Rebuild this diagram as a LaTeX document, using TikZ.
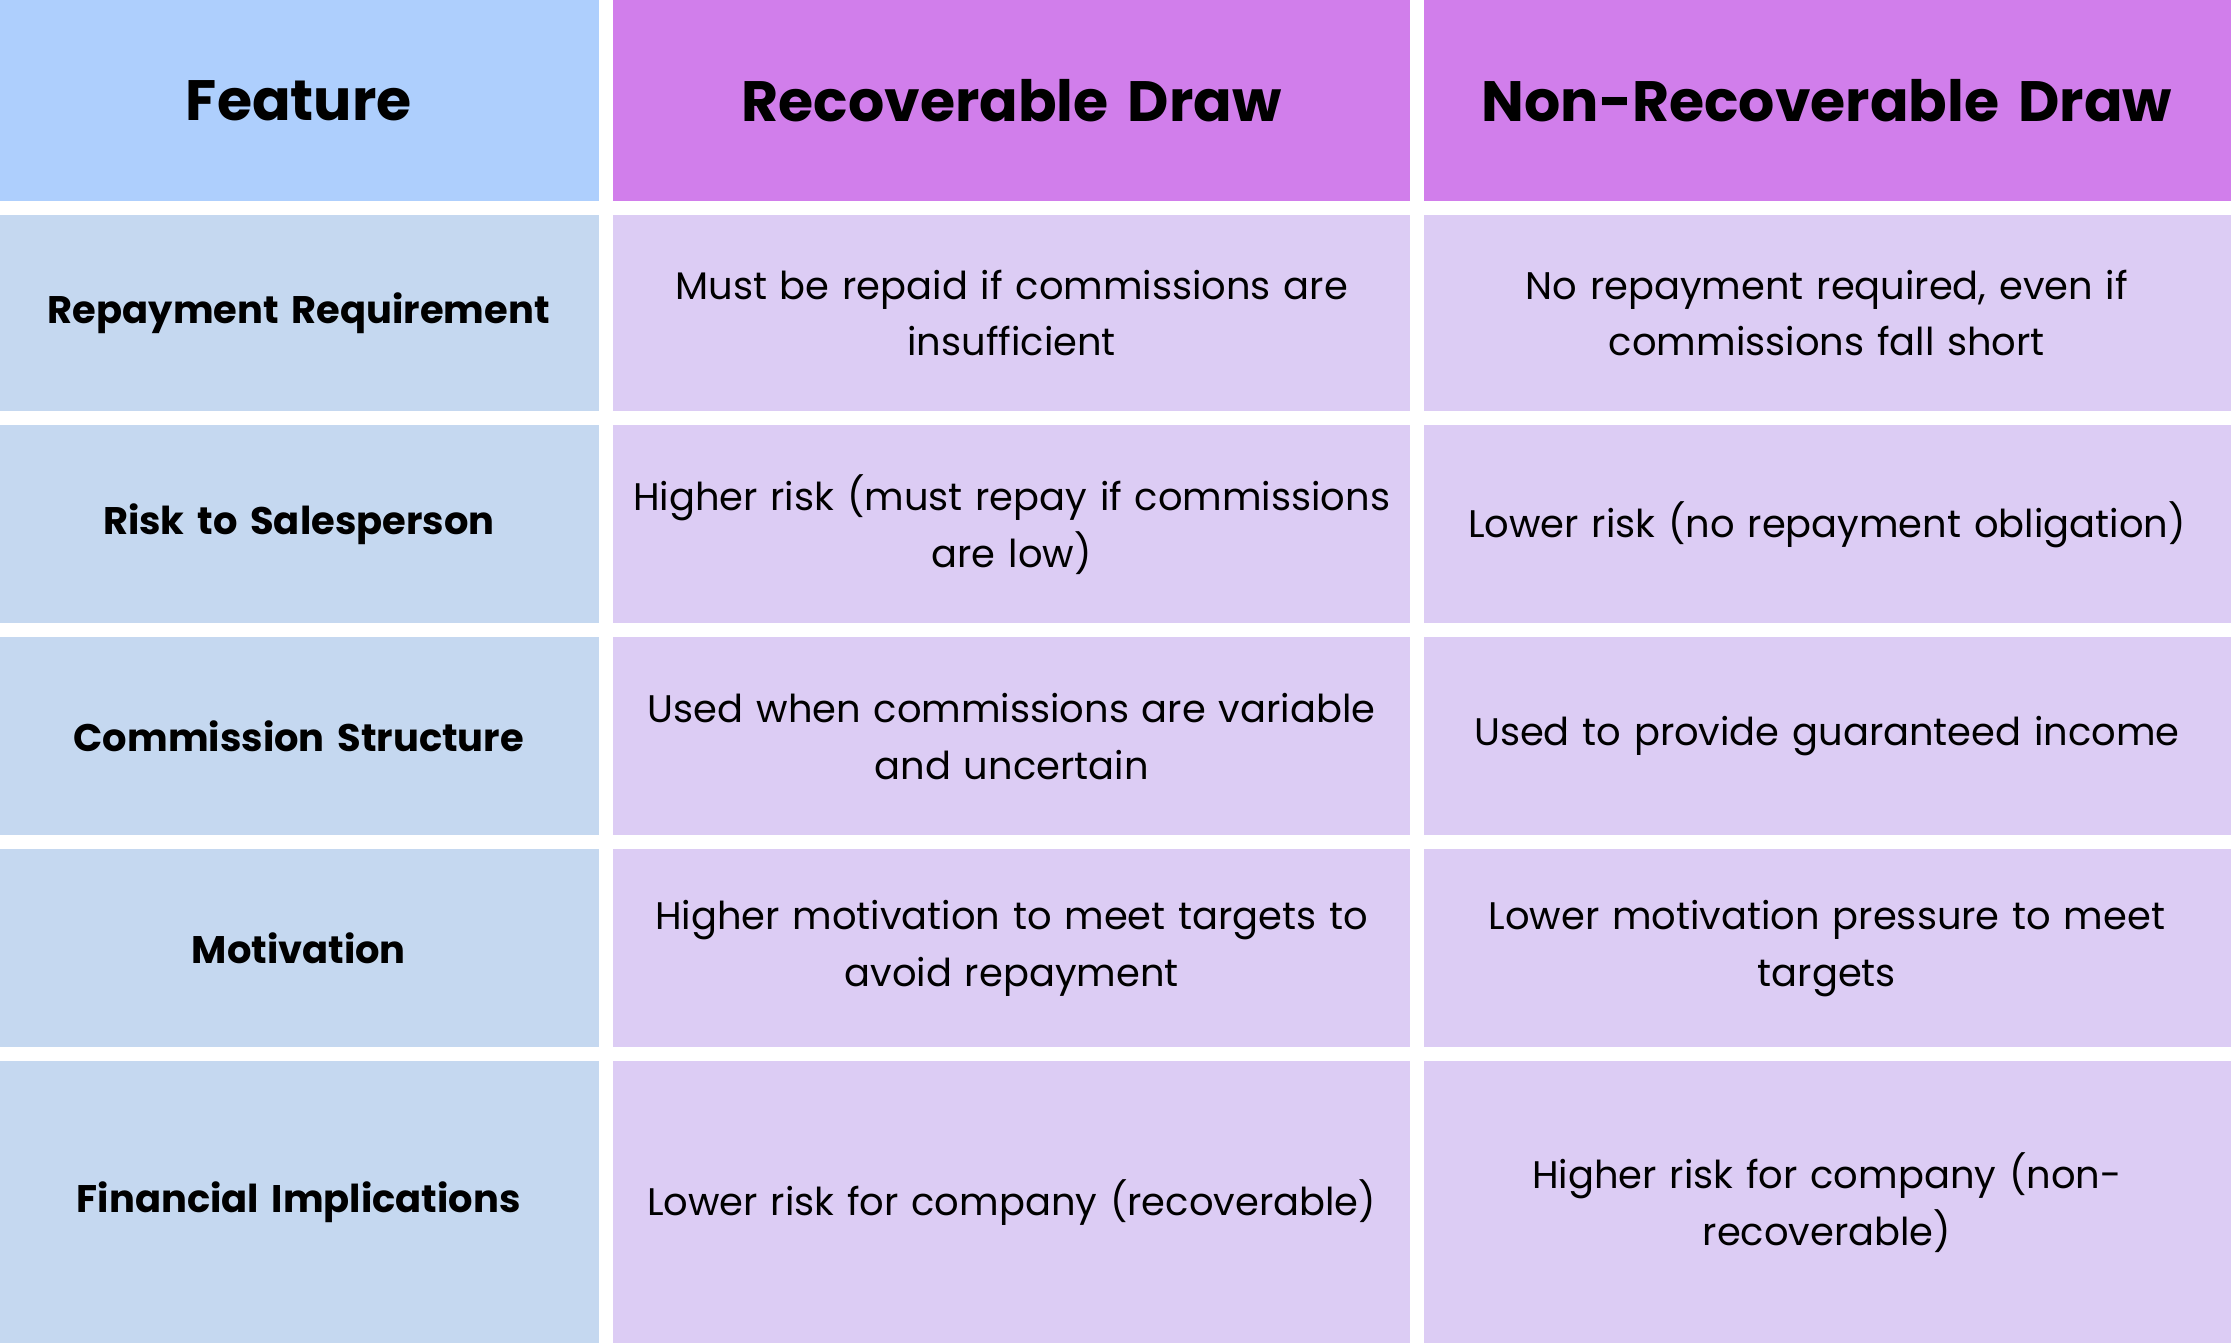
\documentclass[tikz,border=0pt]{standalone}
\usepackage{fontspec}
\setmainfont{Poppins}
\begin{document}
\begin{tikzpicture}[x=0.5pt,y=-0.5pt]
\definecolor{hblue}{HTML}{AECFFD}
\definecolor{hpurp}{HTML}{D17EEB}
\definecolor{bblue}{HTML}{C5D8F0}
\definecolor{bpurp}{HTML}{DCCCF4}
\tikzset{cell/.style={inner sep=0pt, align=center, text width=300pt},
  head/.style={cell, font=\fontsize{20}{24}\selectfont\bfseries},
  feat/.style={cell, font=\fontsize{13.5}{20}\selectfont\bfseries},
  body/.style={cell, font=\fontsize{13.5}{20}\selectfont}}
\useasboundingbox (0,0) rectangle (1568,944);
\fill[white] (0,0) rectangle (1568,944);
% header
\fill[hblue] (0,0) rectangle (421,141);
\fill[hpurp] (431,0) rectangle (991,141);
\fill[hpurp] (1001,0) rectangle (1568,141);
\node[head] (h1) at (210,71) {Feature};
\node[head] (h2) at (711,71) {Recoverable Draw};
\node[head] (h3) at (1284,71) {Non-Recoverable Draw};
% body rows
\foreach \top/\bot/\n/\a/\b/\c in {
  151/289/r1/{Repayment Requirement}/{Must be repaid if commissions are\\insufficient}/{No repayment required, even if\\commissions fall short},
  299/438/r2/{Risk to Salesperson}/{Higher risk (must repay if commissions\\are low)}/{Lower risk (no repayment obligation)},
  448/587/r3/{Commission Structure}/{Used when commissions are variable\\and uncertain}/{Used to provide guaranteed income},
  597/736/r4/{Motivation}/{Higher motivation to meet targets to\\avoid repayment}/{Lower motivation pressure to meet\\targets},
  746/944/r5/{Financial Implications}/{Lower risk for company (recoverable)}/{Higher risk for company (non-\\recoverable)}}{
  \fill[bblue] (0,\top) rectangle (421,\bot);
  \fill[bpurp] (431,\top) rectangle (991,\bot);
  \fill[bpurp] (1001,\top) rectangle (1568,\bot);
  \node[feat] (\n a) at (210,{(\top+\bot)/2}) {\a};
  \node[body] (\n b) at (711,{(\top+\bot)/2}) {\b};
  \node[body] (\n c) at (1284,{(\top+\bot)/2}) {\c};
}
\end{tikzpicture}
\end{document}
